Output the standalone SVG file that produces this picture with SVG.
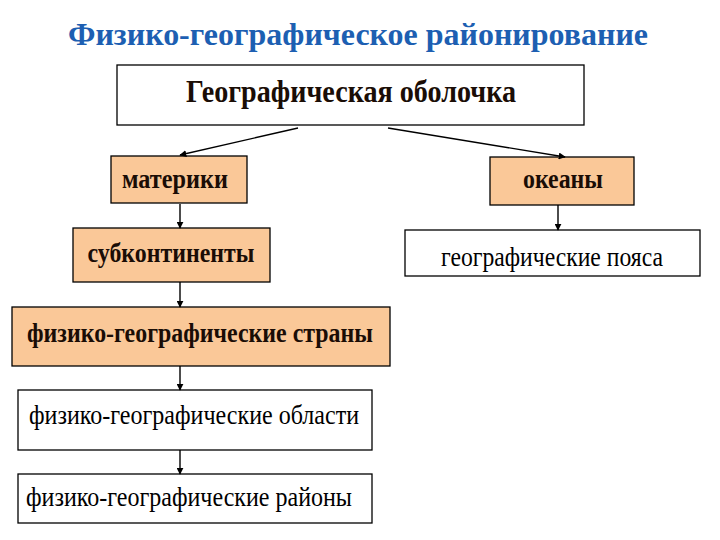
<svg xmlns="http://www.w3.org/2000/svg" width="720" height="540" viewBox="0 0 720 540" font-family="Liberation Serif, Times New Roman, serif">
<defs>
<style>
.box{stroke:#000;stroke-width:1.3}
.w{fill:#fff}
.o{fill:#FAC898}
.b{font-weight:bold;fill:#1a0d06}
.c{stroke:#000;stroke-width:1.4;fill:none;marker-end:url(#ah)}
</style>
<marker id="ah" viewBox="0 0 10 10" refX="9" refY="5" markerWidth="7" markerHeight="7" markerUnits="userSpaceOnUse" orient="auto">
<path d="M0,0 L10,5 L0,10 z" fill="#000"/>
</marker>
</defs>
<rect width="720" height="540" fill="#fff"/>
<text x="358" y="45" text-anchor="middle" font-family="Liberation Serif, serif" font-size="32" font-weight="bold" fill="#1D5FB2" textLength="580" lengthAdjust="spacingAndGlyphs">Физико-географическое районирование</text>
<g id="node-obolochka">
<rect class="box w" x="117" y="65" width="467" height="60"/>
<text class="b" font-family="Liberation Serif, serif" x="351" y="102" text-anchor="middle" font-size="32" textLength="330" lengthAdjust="spacingAndGlyphs">Географическая оболочка</text>
</g>
<g id="node-materiki">
<rect class="box o" x="111" y="156" width="136" height="47"/>
<text class="b" font-family="Liberation Serif, serif" x="175" y="188" text-anchor="middle" font-size="28" textLength="106" lengthAdjust="spacingAndGlyphs">материки</text>
</g>
<g id="node-okeany">
<rect class="box o" x="490" y="157" width="144" height="48"/>
<text class="b" font-family="Liberation Serif, serif" x="563" y="188" text-anchor="middle" font-size="28" textLength="80" lengthAdjust="spacingAndGlyphs">океаны</text>
</g>
<g id="node-subkontinenty">
<rect class="box o" x="73" y="228" width="197" height="54"/>
<text class="b" font-family="Liberation Serif, serif" x="171" y="262" text-anchor="middle" font-size="28" textLength="167" lengthAdjust="spacingAndGlyphs">субконтиненты</text>
</g>
<g id="node-poyasa">
<rect class="box w" x="405" y="230" width="295" height="46"/>
<text font-family="Liberation Serif, serif" x="552" y="266" text-anchor="middle" font-size="27" textLength="222" lengthAdjust="spacingAndGlyphs">географические пояса</text>
</g>
<g id="node-strany">
<rect class="box o" x="12" y="307" width="378" height="59"/>
<text class="b" font-family="Liberation Serif, serif" x="200" y="342" text-anchor="middle" font-size="28" textLength="346" lengthAdjust="spacingAndGlyphs">физико-географические страны</text>
</g>
<g id="node-oblasti">
<rect class="box w" x="18" y="390" width="354" height="60"/>
<text font-family="Liberation Serif, serif" x="194" y="424" text-anchor="middle" font-size="27" textLength="330" lengthAdjust="spacingAndGlyphs">физико-географические области</text>
</g>
<g id="node-rayony">
<rect class="box w" x="18" y="474" width="354" height="49"/>
<text font-family="Liberation Serif, serif" x="189" y="506" text-anchor="middle" font-size="27" textLength="326" lengthAdjust="spacingAndGlyphs">физико-географические районы</text>
</g>
<g id="connectors">
<line class="c" x1="298" y1="128" x2="180" y2="155"/>
<line class="c" x1="388" y1="128" x2="565" y2="157"/>
<line class="c" x1="180" y1="204" x2="180" y2="228"/>
<line class="c" x1="180" y1="282" x2="180" y2="307"/>
<line class="c" x1="180" y1="366" x2="180" y2="390"/>
<line class="c" x1="180" y1="450" x2="180" y2="474"/>
<line class="c" x1="558" y1="205" x2="558" y2="230"/>
</g>
</svg>
